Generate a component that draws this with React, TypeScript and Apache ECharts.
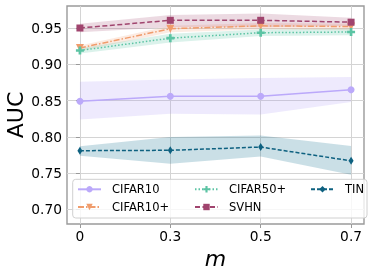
import React, { useEffect, useRef } from "react";
import * as echarts from "echarts";

const xLabels = ["0", "0.3", "0.5", "0.7"];
const xPos = [0, 1, 2, 3];
const yTicks = [0.7, 0.75, 0.8, 0.85, 0.9, 0.95];
const yTitle = "AUC";
const xTitle = "m";

const cifar10 = [0.849, 0.856, 0.856, 0.865];
const cifar10Lo = [0.824, 0.832, 0.831, 0.848];
const cifar10Hi = [0.876, 0.879, 0.881, 0.8825];

const cifar10p = [0.9225, 0.949, 0.953, 0.952];
const cifar10pLo = [0.918, 0.944, 0.948, 0.947];
const cifar10pHi = [0.926, 0.953, 0.957, 0.956];

const cifar50p = [0.919, 0.936, 0.9435, 0.9445];
const cifar50pLo = [0.915, 0.93, 0.939, 0.94];
const cifar50pHi = [0.922, 0.942, 0.948, 0.949];

const svhn = [0.95, 0.9606, 0.9606, 0.958];
const svhnLo = [0.944, 0.951, 0.951, 0.9528];
const svhnHi = [0.956, 0.968, 0.9698, 0.964];

const tin = [0.781, 0.7815, 0.786, 0.767];
const tinLo = [0.774, 0.763, 0.773, 0.748];
const tinHi = [0.787, 0.8, 0.802, 0.7875];

const FONT = "DejaVu Sans";

type Spec = {
  name: string;
  mean: number[];
  lo: number[];
  hi: number[];
  color: string;
  band: string;
  symbol: string;
  symbolSize: number | number[];
  symbolRotate?: number;
  dash: any;
};

const specs: Spec[] = [
  { name: "CIFAR10", mean: cifar10, lo: cifar10Lo, hi: cifar10Hi, color: "#bba9fa", band: "rgba(170,150,245,0.2)", symbol: "circle", symbolSize: 7, dash: "solid" },
  { name: "CIFAR10+", mean: cifar10p, lo: cifar10pLo, hi: cifar10pHi, color: "#f09c6c", band: "rgba(240,156,108,0.2)", symbol: "triangle", symbolSize: 8, symbolRotate: 180, dash: [6, 2, 1.5, 2] },
  { name: "CIFAR50+", mean: cifar50p, lo: cifar50pLo, hi: cifar50pHi, color: "#5cc4a4", band: "rgba(92,196,164,0.22)", symbol: "path://M-1,-3H1V-1H3V1H1V3H-1V1H-3V-1H-1Z", symbolSize: 8, dash: [1.5, 2] },
  { name: "SVHN", mean: svhn, lo: svhnLo, hi: svhnHi, color: "#a0446e", band: "rgba(160,68,110,0.2)", symbol: "rect", symbolSize: 7, dash: [5, 2.5] },
  { name: "TIN", mean: tin, lo: tinLo, hi: tinHi, color: "#0e6180", band: "rgba(15,110,140,0.22)", symbol: "diamond", symbolSize: [5, 8], dash: [4, 2] },
];

export default function App() {
  const ref = useRef<HTMLDivElement>(null);
  useEffect(() => {
    if (!ref.current) return;
    const chart = echarts.init(ref.current, undefined, { renderer: "svg" });
    const series: any[] = [];
    specs.forEach((s) => {
      const pts = xPos.map((x, i) => [x, s.lo[i], s.hi[i]]);
      series.push({
        name: s.name + "_band",
        type: "custom",
        data: pts,
        encode: { x: 0, y: [1, 2] },
        silent: true,
        z: 1,
        renderItem: (params: any, api: any) => {
          if (params.dataIndex !== 0) return null;
          const upper = pts.map((p) => api.coord([p[0], p[2]]));
          const lower = pts.map((p) => api.coord([p[0], p[1]])).reverse();
          return {
            type: "polygon",
            shape: { points: upper.concat(lower) },
            style: { fill: s.band, stroke: "none" },
          };
        },
      });
    });
    specs.forEach((s) => {
      series.push({
        name: s.name,
        type: "line",
        data: xPos.map((x, i) => [x, s.mean[i]]),
        color: s.color,
        lineStyle: { color: s.color, width: 1.5, type: s.dash },
        itemStyle: { color: s.color },
        symbol: s.symbol,
        symbolSize: s.symbolSize,
        symbolRotate: s.symbolRotate || 0,
        showSymbol: true,
        z: 2,
      });
    });
    const legendCommon = {
      orient: "vertical",
      padding: 0,
      itemWidth: 23,
      itemHeight: 8,
      itemGap: 3.7,
      textStyle: { fontFamily: FONT, fontSize: 11.5, color: "#000", lineHeight: 14, padding: [0, 0, 0, 6] },
      z: 10,
    };
    chart.setOption({
      animation: false,
      grid: {
        left: 67,
        top: 6,
        width: 297,
        height: 218,
        show: true,
        borderColor: "#9a9a9a",
        borderWidth: 1.4,
        backgroundColor: "transparent",
        containLabel: false,
        outerBoundsMode: "none",
      },
      xAxis: {
        type: "value",
        min: -0.143,
        max: 3.143,
        name: xTitle,
        nameLocation: "middle",
        nameGap: 22,
        nameTextStyle: { fontFamily: FONT, fontSize: 22, fontStyle: "italic", color: "#000" },
        axisLine: { show: false },
        axisTick: { show: true, customValues: xPos, length: 4, lineStyle: { color: "#9a9a9a", width: 1 } },
        axisLabel: {
          customValues: xPos,
          margin: 5,
          fontFamily: FONT,
          fontSize: 13.8,
          color: "#000",
          formatter: (v: number) => xLabels[Math.round(v)] ?? "",
        },
        splitLine: { show: true, lineStyle: { color: "#d4d4d4", width: 1 } },
      },
      yAxis: {
        type: "value",
        min: 0.68,
        max: 0.9803,
        axisLine: { show: false },
        axisTick: { show: true, customValues: yTicks, length: 4, lineStyle: { color: "#9a9a9a", width: 1 } },
        axisLabel: {
          customValues: yTicks,
          margin: 5,
          fontFamily: FONT,
          fontSize: 13.8,
          color: "#000",
          formatter: (v: number) => v.toFixed(2),
        },
        splitLine: { show: true, lineStyle: { color: "#d4d4d4", width: 1 } },
      },
      legend: [
        { ...legendCommon, left: 77, top: 182.3, data: ["CIFAR10", "CIFAR10+"] },
        { ...legendCommon, left: 194, top: 182.3, data: ["CIFAR50+", "SVHN"] },
        { ...legendCommon, left: 310, top: 182.3, data: ["TIN"] },
      ],
      graphic: [
        {
          type: "rect",
          z: 9,
          shape: { x: 72.7, y: 179.3, width: 294.3, height: 38.7, r: 3 },
          style: { fill: "rgba(255,255,255,0.8)", stroke: "#d0d0d0", lineWidth: 1 },
        },
        {
          type: "text",
          x: 15,
          y: 115,
          rotation: Math.PI / 2,
          style: {
            text: yTitle,
            fontFamily: FONT,
            fontSize: 22,
            fill: "#000",
            align: "center",
            verticalAlign: "middle",
          },
        },
      ],
      series,
    });
    return () => chart.dispose();
  }, []);
  return <div ref={ref} style={{ position: "fixed", left: 0, top: 0, width: 374, height: 274 }} />;
}
